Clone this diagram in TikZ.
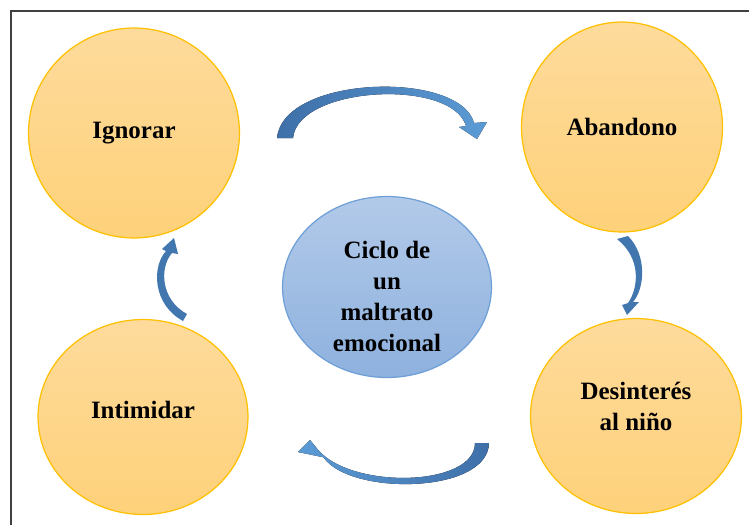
\documentclass[tikz,border=0pt]{standalone}
\usepackage{fontspec}
\setmainfont{Liberation Serif}
\usetikzlibrary{shapes.geometric}

\definecolor{naranja}{HTML}{FED17A}
\definecolor{naranjaclaro}{HTML}{FEDB9C}
\definecolor{naranjaborde}{HTML}{FFC000}
\definecolor{azulclaro}{HTML}{B2CAE9}
\definecolor{azul}{HTML}{8EB1DE}
\definecolor{azulborde}{HTML}{6E9FD6}
\definecolor{flechaosc}{HTML}{3E6FA8}
\definecolor{flechacla}{HTML}{5B9BD5}

\tikzset{
	burbuja/.style={ellipse, draw=naranjaborde, line width=0.7pt, top color=naranjaclaro, bottom color=naranja,
		inner sep=0pt, font=\bfseries\fontsize{14.2}{17.6}\selectfont, align=center},
	centro/.style={burbuja, draw=azulborde, top color=azulclaro, bottom color=azul},
	flecha/.style={fill=flechaosc!85!flechacla, draw=none}
}

\begin{document}
\begin{tikzpicture}[x=0.02cm, y=-0.02cm]
	\useasboundingbox (0,0) rectangle (749,525);

	% marco
	\draw[line width=0.9pt, black!75] (11,525) -- (11,11) -- (749,11);

	% burbujas
	\node[burbuja, minimum width=4.22cm, minimum height=4.2cm] (ignorar) at (134,133) {Ignorar};
	\node[burbuja, minimum width=4.02cm, minimum height=4.2cm] (abandono) at (622,127) {Abandono};
	\node[burbuja, minimum width=4.22cm, minimum height=3.9cm] (desinteres) at (636,416)
		{\raisebox{4pt}[\height][\depth]{\begin{tabular}{@{}c@{}}Desinterés\\al niño\end{tabular}}};
	\node[burbuja, minimum width=4.2cm, minimum height=3.9cm] (intimidar) at (143,417)
		{\raisebox{4pt}[\height][\depth]{Intimidar}};

	\node[centro, minimum width=4.18cm, minimum height=3.62cm] (ciclo) at (387,287)
		{\raisebox{-6.5pt}[\height][\depth]{\begin{tabular}{@{}c@{}}Ciclo de\\un\\maltrato\\emocional\end{tabular}}};

	% flechas
	\fill[left color=flechaosc, right color=flechacla] (277,138) .. controls (283,75) and (460,70) .. (474,123)
		-- (487,122) -- (477,139) -- (459,127) -- (466,126) .. controls (452,78) and (298,86) .. (293,138) -- cycle;
	\fill[flecha] (628,236) .. controls (647,255) and (645,288) .. (633,302)
		-- (639,302) -- (627,315) -- (622,305) -- (628,303) .. controls (639,287) and (641,258) .. (617,239) -- cycle;
	\fill[right color=flechaosc, left color=flechacla] (489,443) .. controls (488,496) and (340,496) .. (321,453)
		-- (327,458) -- (298,452) -- (310,440) -- (315,446) .. controls (345,490) and (475,488) .. (475,443) -- cycle;
	\fill[flecha] (183,321) .. controls (152,304) and (152,266) .. (166,251)
		-- (162,249) -- (174,238) -- (178,254) -- (172,253) .. controls (159,268) and (161,300) .. (187,314) -- cycle;

\end{tikzpicture}
\end{document}
